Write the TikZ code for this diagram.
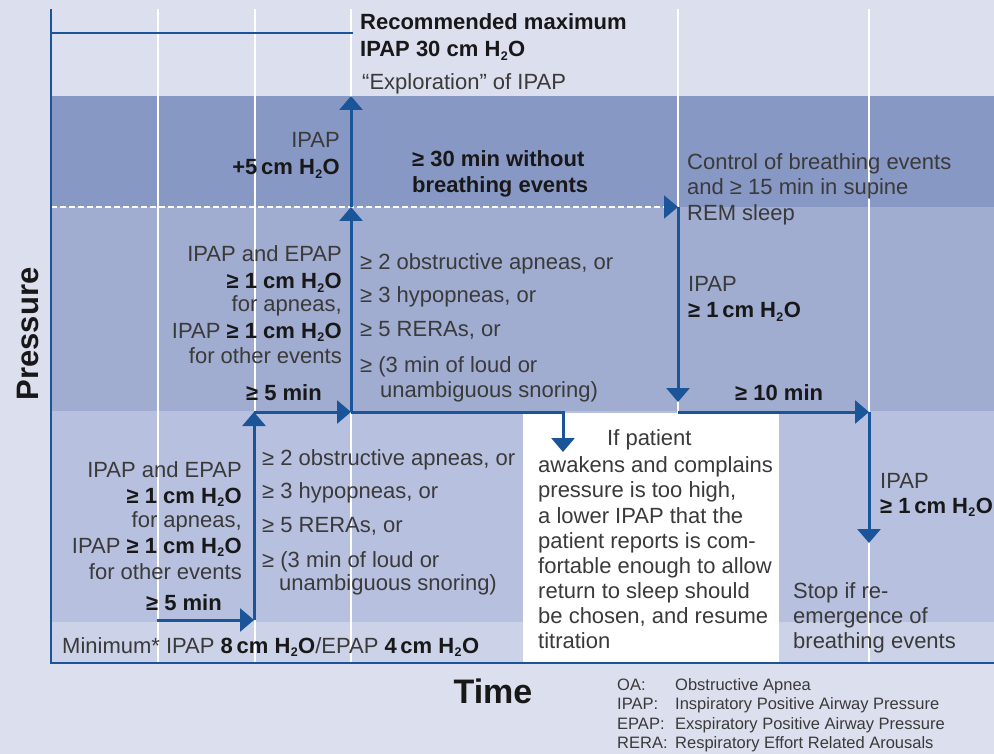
\documentclass[tikz,border=0pt]{standalone}
\usepackage{fontspec}
\setmainfont{Liberation Sans}
\usetikzlibrary{arrows.meta}

\definecolor{bg}{HTML}{DCDFEE}
\definecolor{bandA}{HTML}{8898C5}
\definecolor{bandB}{HTML}{A0ACD0}
\definecolor{bandC}{HTML}{B7C0DE}
\definecolor{bandD}{HTML}{CCD2E8}
\definecolor{lineblue}{HTML}{1A5599}
\definecolor{txt}{HTML}{3A3A3A}
\definecolor{txtb}{HTML}{181818}

% water, with a small lowered 2
\newcommand\hto{H\kern0.4pt\lower3.5pt\hbox{\fontsize{12.5}{12.5}\selectfont 2}\kern0.4pt O}
\newcommand\hb[1]{{\bfseries\color{txtb}#1}}

\tikzset{
  t/.style={font=\fontsize{22}{26}\selectfont, text=txt, inner sep=0pt},
  tb/.style={font=\fontsize{22}{26}\selectfont\bfseries, text=txtb, inner sep=0pt},
  lw/.style={anchor=base west},
  le/.style={anchor=base east},
  grid/.style={draw=white, line width=1.5pt},
  axis/.style={draw=lineblue, line width=2.5pt},
  flow/.style={draw=lineblue, line width=3pt, -{Triangle[width=23pt,length=14pt]}},
  tip/.style={-{Triangle[width=23pt,length=14pt,color=lineblue]}},
  legend/.style={font=\fontsize{16.5}{19.5}\selectfont, text=txt, inner sep=0pt, anchor=base west},
}

\begin{document}
\begin{tikzpicture}[x=1pt,y=-1pt]
  % canvas
  \fill[bg] (0,0) rectangle (994,754);
  \useasboundingbox (0,0) rectangle (994,754);

  % pressure bands
  \fill[bandA] (51,96)  rectangle (994,207);
  \fill[bandB] (51,207) rectangle (994,411);
  \fill[bandC] (51,411) rectangle (994,622);
  \fill[bandD] (51,622) rectangle (994,663);
  \fill[white] (523,413) rectangle (779,663);

  % time grid
  \foreach \gx in {158,255,351,678,869}
    \draw[grid] (\gx,9) -- (\gx,663);

  % step points
  \coordinate (p0) at (157,620);
  \coordinate (p1) at (254,620);
  \coordinate (p2) at (254,412);
  \coordinate (p3) at (351,412);
  \coordinate (p4) at (351,207);
  \coordinate (p5) at (351,96);
  \coordinate (p6) at (563,452);
  \coordinate (d0) at (51,207);
  \coordinate (d1) at (678,207);
  \coordinate (q1) at (678,402);
  \coordinate (q0) at (678,412);
  \coordinate (q2) at (869,412);
  \coordinate (q3) at (869,543);
  \coordinate (ax0) at (51,9);
  \coordinate (ax1) at (51,663);
  \coordinate (ax2) at (994,663);
  \coordinate (mx0) at (51,33);
  \coordinate (mx1) at (353,33);

  % threshold line
  \draw[white, line width=2pt, dash pattern=on 6pt off 3pt, tip] (d0) -- (d1);

  % axes and maximum
  \draw[axis] (ax0) -- (ax1) -- (ax2);
  \draw[axis] (mx0) -- (mx1);

  % titration steps
  \draw[flow] (p0) -- (p1);
  \draw[flow] (p1) -- (p2);
  \draw[flow] (p2) -- (p3);
  \draw[flow] (p3) -- (p4);
  \draw[flow] (p4) -- (p5);
  \draw[flow] (p3) -| (p6);
  \draw[flow] (d1) -- (q1);
  \draw[flow] (q0) -- (q2);
  \draw[flow] (q2) -- (q3);

  % top
  \node[tb,lw] (recA) at (360,30) {Recommended maximum};
  \node[tb,lw] (recB) at (360,57) {IPAP 30 cm \hto};
  \node[t,lw]  (expl) at (362,90) {“Exploration” of IPAP};

  % band of IPAP increase
  \node[t,le]  (incA) at (340,148) {IPAP};
  \node[tb,le] (incB) at (340,175) {+5\,cm \hto};
  \node[tb,lw] (noevA) at (412,167) {≥ 30 min without};
  \node[tb,lw] (noevB) at (412,193) {breathing events};
  \node[t,lw]  (ctlA) at (687,170) {Control of breathing events};
  \node[t,lw]  (ctlB) at (687,195) {and ≥ 15 min in supine};
  \node[t,lw]  (ctlC) at (687,221) {REM sleep};

  % upper titration band
  \node[t,le] (uA) at (342,262) {IPAP and EPAP};
  \node[t,le] (uB) at (342,289) {\hb{≥ 1 cm \hto}};
  \node[t,le] (uC) at (342,312) {for apneas,};
  \node[t,le] (uD) at (342,338) {IPAP \hb{≥ 1 cm \hto}};
  \node[t,le] (uE) at (342,363) {for other events};
  \node[tb,le] (uF) at (322,400) {≥ 5 min};
  \node[t,lw] (uL1) at (360,270) {≥ 2 obstructive apneas, or};
  \node[t,lw] (uL2) at (360,303) {≥ 3 hypopneas, or};
  \node[t,lw] (uL3) at (360,337) {≥ 5 RERAs, or};
  \node[t,lw] (uL4) at (360,372) {≥ (3 min of loud or};
  \node[t,lw] (uL5) at (380,397) {unambiguous snoring)};
  \node[t,lw] (rA) at (688,291) {IPAP};
  \node[tb,lw] (rB) at (688,318) {≥ 1\,cm \hto};
  \node[tb,lw] (rC) at (735,400) {≥ 10 min};

  % lower titration band
  \node[t,le] (lA) at (242,477) {IPAP and EPAP};
  \node[t,le] (lB) at (242,503) {\hb{≥ 1 cm \hto}};
  \node[t,le] (lC) at (242,527) {for apneas,};
  \node[t,le] (lD) at (242,553) {IPAP \hb{≥ 1 cm \hto}};
  \node[t,le] (lE) at (242,579) {for other events};
  \node[tb,le] (lF) at (222,610) {≥ 5 min};
  \node[t,lw] (lL1) at (262,465) {≥ 2 obstructive apneas, or};
  \node[t,lw] (lL2) at (262,498) {≥ 3 hypopneas, or};
  \node[t,lw] (lL3) at (262,532) {≥ 5 RERAs, or};
  \node[t,lw] (lL4) at (262,567) {≥ (3 min of loud or};
  \node[t,lw] (lL5) at (279,590) {unambiguous snoring)};

  % awakening note
  \node[t,lw] (wA) at (607,445) {If patient};
  \node[t,lw] (wB) at (538,472) {awakens and complains};
  \node[t,lw] (wC) at (538,497) {pressure is too high,};
  \node[t,lw] (wD) at (538,523) {a lower IPAP that the};
  \node[t,lw] (wE) at (538,548) {patient reports is com-};
  \node[t,lw] (wF) at (538,573) {fortable enough to allow};
  \node[t,lw] (wG) at (538,598) {return to sleep should};
  \node[t,lw] (wH) at (538,623) {be chosen, and resume};
  \node[t,lw] (wI) at (538,648) {titration};

  % final step
  \node[t,lw] (fA) at (880,488) {IPAP};
  \node[tb,lw] (fB) at (880,513) {≥ 1\,cm \hto};
  \node[t,lw] (sA) at (793,598) {Stop if re-};
  \node[t,lw] (sB) at (793,623) {emergence of};
  \node[t,lw] (sC) at (793,648) {breathing events};

  % minimum
  \node[t,lw] (minp) at (62,653) {Minimum* IPAP \hb{8\,cm \hto}/EPAP \hb{4\,cm \hto}};

  % axis titles
  \node[font=\fontsize{31}{31}\selectfont\bfseries, text=txtb, inner sep=0pt, rotate=90] (ylab) at (28,334) {Pressure};
  \node[font=\fontsize{34}{34}\selectfont\bfseries, text=txtb, inner sep=0pt, anchor=base] (xlab) at (493,703) {Time};

  % abbreviations
  \node[legend] (kOA) at (617,690) {OA:};
  \node[legend] (kIP) at (617,709.5) {IPAP:};
  \node[legend] (kEP) at (617,729) {EPAP:};
  \node[legend] (kRE) at (617,748.5) {RERA:};
  \node[legend] (vOA) at (675,690) {Obstructive Apnea};
  \node[legend] (vIP) at (675,709.5) {Inspiratory Positive Airway Pressure};
  \node[legend] (vEP) at (675,729) {Exspiratory Positive Airway Pressure};
  \node[legend] (vRE) at (675,748.5) {Respiratory Effort Related Arousals};
\end{tikzpicture}
\end{document}
